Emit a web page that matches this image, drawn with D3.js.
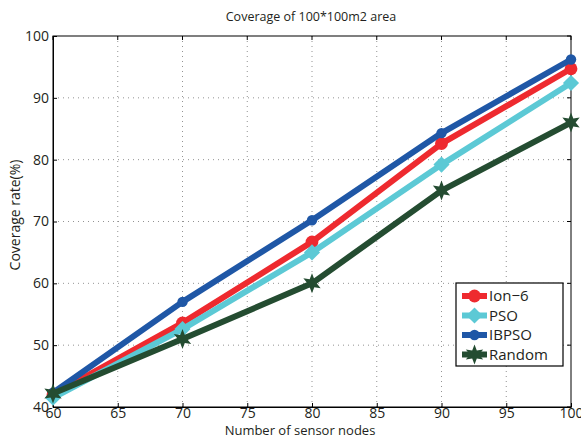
<!DOCTYPE html>
<html>
<head>
<meta charset="utf-8">
<script src="https://cdn.jsdelivr.net/npm/d3@7"></script>
<style>
  body { margin: 0; background: #fff; }
  text { font-family: "Open Sans", "Liberation Sans", sans-serif; fill: #231f20; }
</style>
</head>
<body>
<div class="canvas"></div>
<script>
const svgWidth = 581;
const svgHeight = 439;

// data
const nodes = [60, 70, 80, 90, 100];
const ion6 = [42.0, 53.6, 66.7, 82.6, 94.7];
const pso = [41.5, 52.6, 65.0, 79.2, 92.4];
const ibpso = [42.3, 57.0, 70.2, 84.3, 96.2];
const random = [42.2, 51.0, 60.0, 75.0, 86.0];

const xTicks = [60, 65, 70, 75, 80, 85, 90, 95, 100];
const yTicks = [40, 50, 60, 70, 80, 90, 100];

const seriesNames = ['Ion\u22126', 'PSO', 'IBPSO', 'Random'];
const seriesColors = ['#ee2a2f', '#5cc9d5', '#1f57a6', '#244c31'];
const seriesValues = [ion6, pso, ibpso, random];

const svg = d3.select('.canvas')
    .append('svg')
    .attr('width', svgWidth)
    .attr('height', svgHeight);

const margin = { top: 36, right: 10, bottom: 32, left: 53 };
const graphWidth = svgWidth - margin.left - margin.right;
const graphHeight = svgHeight - margin.top - margin.bottom;

const graph = svg.append('g')
    .attr('transform', `translate(${margin.left}, ${margin.top})`);

const x = d3.scaleLinear().domain([60, 100]).range([0, graphWidth]);
const y = d3.scaleLinear().domain([40, 100]).range([graphHeight, 0]);

// dotted grid
graph.append('g').selectAll('line')
    .data(xTicks.slice(1, -1))
    .enter().append('line')
    .attr('x1', d => x(d)).attr('x2', d => x(d))
    .attr('y1', 0).attr('y2', graphHeight)
    .attr('stroke', '#777').attr('stroke-width', 0.8)
    .attr('stroke-dasharray', '1,4');
graph.append('g').selectAll('line')
    .data(yTicks.slice(1, -1))
    .enter().append('line')
    .attr('y1', d => y(d)).attr('y2', d => y(d))
    .attr('x1', 0).attr('x2', graphWidth)
    .attr('stroke', '#777').attr('stroke-width', 0.8)
    .attr('stroke-dasharray', '1,4');

// axes, ticks pointing inward
const xAxis = d3.axisBottom(x).tickValues(xTicks).tickSizeInner(-4).tickSizeOuter(0).tickPadding(3);
const yAxis = d3.axisLeft(y).tickValues(yTicks).tickSizeInner(-4).tickSizeOuter(0).tickPadding(4);

const xAxisGroup = graph.append('g').attr('transform', `translate(0, ${graphHeight})`).call(xAxis);
const yAxisGroup = graph.append('g').call(yAxis);
[xAxisGroup, yAxisGroup].forEach(g => {
    g.selectAll('text').style('font-size', '14px').attr('fill', '#231f20');
    g.selectAll('line, path').attr('stroke', '#000');
});
xAxisGroup.selectAll('text').attr('dy', '0.55em');

// top/right border with ticks
graph.append('rect')
    .attr('width', graphWidth).attr('height', graphHeight)
    .attr('fill', 'none').attr('stroke', '#000').attr('stroke-width', 1);
graph.append('g').selectAll('line').data(xTicks).enter().append('line')
    .attr('x1', d => x(d)).attr('x2', d => x(d)).attr('y1', 0).attr('y2', 4).attr('stroke', '#000');
graph.append('g').selectAll('line').data(yTicks).enter().append('line')
    .attr('y1', d => y(d)).attr('y2', d => y(d)).attr('x1', graphWidth).attr('x2', graphWidth - 4).attr('stroke', '#000');

// markers
const marker = (sel, i, size) => {
    const col = seriesColors[i];
    if (i === 0) {
        sel.append('circle').attr('r', size * 0.8).attr('fill', col);
    } else if (i === 1) {
        sel.append('path').attr('d', d3.symbol(d3.symbolDiamond2, size * size * 2.6)()).attr('fill', col);
    } else if (i === 2) {
        sel.append('circle').attr('r', size * 0.65).attr('fill', col);
    } else {
        const pts = d3.range(12).map(k => {
            const r = k % 2 === 0 ? size * 1.25 : size * 0.58;
            const a = k * Math.PI / 6 - Math.PI / 2;
            return [r * Math.cos(a), r * Math.sin(a)];
        });
        sel.append('path').attr('d', d3.line()(pts) + 'Z').attr('fill', col);
    }
};

const line = d3.line().x(d => x(d[0])).y(d => y(d[1]));

seriesValues.forEach((vals, i) => {
    const pts = nodes.map((n, j) => [n, vals[j]]);
    graph.append('path')
        .datum(pts)
        .attr('d', line)
        .attr('fill', 'none')
        .attr('stroke', seriesColors[i])
        .attr('stroke-width', 6)
        .attr('stroke-linejoin', 'round');
    pts.forEach(p => {
        const g = graph.append('g').attr('transform', `translate(${x(p[0])}, ${y(p[1])})`);
        marker(g, i, 8);
    });
});

// title and axis labels
svg.append('text')
    .attr('x', 311).attr('y', 21)
    .attr('text-anchor', 'middle').style('font-size', '12.5px')
    .text('Coverage of 100*100m2 area');
svg.append('text')
    .attr('x', 300).attr('y', 434.5)
    .attr('text-anchor', 'middle').style('font-size', '13px')
    .text('Number of sensor nodes');
svg.append('text')
    .attr('transform', `translate(20, 215) rotate(-90)`)
    .attr('text-anchor', 'middle').style('font-size', '14px')
    .text('Coverage rate(%)');

// legend
const legend = svg.append('g').attr('transform', 'translate(456, 283)');
legend.append('rect')
    .attr('width', 107).attr('height', 83)
    .attr('fill', '#fff').attr('stroke', '#000').attr('stroke-width', 1.2);
seriesNames.forEach((name, i) => {
    const row = legend.append('g').attr('transform', `translate(0, ${13 + i * 19.5})`);
    row.append('line').attr('x1', 6).attr('x2', 31)
        .attr('stroke', seriesColors[i]).attr('stroke-width', 6);
    const m = row.append('g').attr('transform', 'translate(18.5, 0)');
    marker(m, i, 8);
    row.append('text').attr('x', 33).attr('dy', '0.36em')
        .style('font-size', '15px').text(name);
});
</script>
</body>
</html>
